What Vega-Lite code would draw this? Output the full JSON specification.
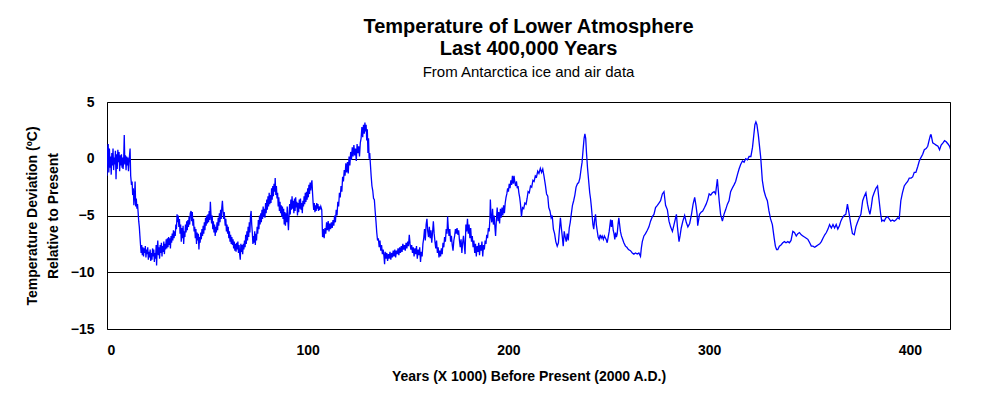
{
"$schema": "https://vega.github.io/schema/vega-lite/v6.json",
"width": 843, "height": 227,
"autosize": {"type": "none"},
"padding": {"left": 107, "top": 102, "right": 35, "bottom": 66},
"background": "white",
"title": {"text": ["Temperature of Lower Atmosphere", "Last 400,000 Years"], "subtitle": "From Antarctica ice and air data", "font": "Liberation Sans", "fontSize": 20, "fontWeight": "bold", "lineHeight": 22, "color": "black", "subtitleFont": "Liberation Sans", "subtitleFontSize": 15, "subtitleColor": "black", "subtitlePadding": 6, "anchor": "middle", "offset": 15},
"data": {"values": [
{"kyr":0,"temp":-1.5},{"kyr":0.3,"temp":0.8},{"kyr":0.6,"temp":1.3},{"kyr":0.9,"temp":-1.2},{"kyr":1.2,"temp":0.9},{"kyr":1.5,"temp":-0.8},{"kyr":1.8,"temp":0.2},{"kyr":2.1,"temp":-1.4},{"kyr":2.4,"temp":0.5},{"kyr":2.7,"temp":-0.6},{"kyr":3.0,"temp":0.9},{"kyr":3.3,"temp":-1.0},{"kyr":3.6,"temp":0.1},{"kyr":3.9,"temp":-0.5},{"kyr":4.2,"temp":0.7},{"kyr":4.5,"temp":-1.8},{"kyr":4.8,"temp":0.4},{"kyr":5.1,"temp":-0.9},{"kyr":5.4,"temp":0.8},{"kyr":5.7,"temp":-0.3},{"kyr":6.0,"temp":0.6},{"kyr":6.3,"temp":-1.1},{"kyr":6.6,"temp":0.3},{"kyr":6.9,"temp":-0.6},{"kyr":7.2,"temp":0.4},{"kyr":7.5,"temp":-0.8},{"kyr":7.8,"temp":0.1},{"kyr":8.0,"temp":-0.9},{"kyr":8.3,"temp":-0.2},{"kyr":8.6,"temp":2.1},{"kyr":8.9,"temp":-0.5},{"kyr":9.2,"temp":0.3},{"kyr":9.5,"temp":-1.0},{"kyr":9.8,"temp":0.2},{"kyr":10.1,"temp":-0.6},{"kyr":10.4,"temp":0.1},{"kyr":10.7,"temp":-1.1},{"kyr":11.0,"temp":-0.2},{"kyr":11.5,"temp":0.9},{"kyr":11.8,"temp":-1.5},
{"kyr":12.2,"temp":-2.3},{"kyr":12.5,"temp":-2.0},{"kyr":12.8,"temp":-3.2},{"kyr":13.1,"temp":-2.6},{"kyr":13.4,"temp":-4.1},{"kyr":13.7,"temp":-3.3},{"kyr":14.0,"temp":-2.0},{"kyr":14.3,"temp":-4.2},{"kyr":14.6,"temp":-3.5},{"kyr":14.9,"temp":-4.4},{"kyr":15.2,"temp":-4.0},{"kyr":15.5,"temp":-4.7},{"kyr":15.8,"temp":-5.5},{"kyr":16.1,"temp":-6.0},{"kyr":16.4,"temp":-6.8},{"kyr":16.7,"temp":-7.6},{"kyr":17.0,"temp":-8.3},{"kyr":17.3,"temp":-7.6},{"kyr":17.6,"temp":-8.5},{"kyr":17.9,"temp":-7.8},{"kyr":18.2,"temp":-8.6},{"kyr":18.5,"temp":-7.9},{"kyr":18.8,"temp":-8.3},{"kyr":19.1,"temp":-7.7},{"kyr":19.4,"temp":-8.7},{"kyr":19.7,"temp":-8.0},{"kyr":20.0,"temp":-8.4},{"kyr":20.3,"temp":-7.8},{"kyr":20.6,"temp":-8.9},{"kyr":20.9,"temp":-8.2},{"kyr":21.2,"temp":-8.7},{"kyr":21.5,"temp":-8.0},{"kyr":21.8,"temp":-9.0},{"kyr":22.1,"temp":-8.3},{"kyr":22.4,"temp":-8.9},{"kyr":22.7,"temp":-7.9},{"kyr":23.0,"temp":-8.6},{"kyr":23.3,"temp":-8.0},{"kyr":23.6,"temp":-9.1},{"kyr":23.9,"temp":-8.3},{"kyr":24.2,"temp":-8.8},{"kyr":24.5,"temp":-7.6},{"kyr":24.7,"temp":-9.4},{"kyr":25.0,"temp":-8.0},{"kyr":25.3,"temp":-7.2},{"kyr":25.6,"temp":-8.5},{"kyr":25.9,"temp":-7.8},{"kyr":26.2,"temp":-8.8},{"kyr":26.5,"temp":-7.6},{"kyr":26.8,"temp":-8.3},{"kyr":27.1,"temp":-7.4},{"kyr":27.4,"temp":-8.6},{"kyr":27.7,"temp":-7.7},{"kyr":28.0,"temp":-8.2},{"kyr":28.3,"temp":-7.3},{"kyr":28.6,"temp":-8.4},{"kyr":28.9,"temp":-7.5},{"kyr":29.2,"temp":-8.0},{"kyr":29.5,"temp":-7.1},{"kyr":29.8,"temp":-7.9},{"kyr":30.1,"temp":-7.0},{"kyr":30.4,"temp":-7.8},{"kyr":30.7,"temp":-6.9},{"kyr":31.0,"temp":-7.6},{"kyr":31.3,"temp":-7.0},{"kyr":31.6,"temp":-7.9},{"kyr":31.9,"temp":-6.8},{"kyr":32.2,"temp":-7.4},{"kyr":32.5,"temp":-6.6},{"kyr":32.8,"temp":-7.2},{"kyr":33.1,"temp":-6.3},{"kyr":33.4,"temp":-7.0},{"kyr":33.7,"temp":-6.4},{"kyr":34.0,"temp":-6.8},{"kyr":34.3,"temp":-5.8},{"kyr":34.6,"temp":-6.2},{"kyr":34.9,"temp":-4.9},{"kyr":35.2,"temp":-5.6},{"kyr":35.5,"temp":-5.0},{"kyr":35.8,"temp":-6.0},{"kyr":36.1,"temp":-5.3},{"kyr":36.4,"temp":-6.6},{"kyr":36.7,"temp":-5.8},{"kyr":37.0,"temp":-7.3},{"kyr":37.3,"temp":-6.1},{"kyr":37.6,"temp":-7.0},{"kyr":37.9,"temp":-5.9},{"kyr":38.2,"temp":-7.5},{"kyr":38.5,"temp":-6.4},{"kyr":38.8,"temp":-6.9},{"kyr":39.1,"temp":-5.8},{"kyr":39.4,"temp":-6.5},{"kyr":39.7,"temp":-5.5},{"kyr":40.0,"temp":-6.3},{"kyr":40.3,"temp":-5.4},{"kyr":40.6,"temp":-6.0},{"kyr":40.9,"temp":-5.1},{"kyr":41.2,"temp":-5.8},{"kyr":41.5,"temp":-4.8},{"kyr":41.9,"temp":-4.6},{"kyr":42.2,"temp":-5.5},{"kyr":42.5,"temp":-4.7},{"kyr":42.8,"temp":-5.9},{"kyr":43.1,"temp":-5.3},{"kyr":43.4,"temp":-6.4},{"kyr":43.7,"temp":-6.0},{"kyr":44.0,"temp":-7.0},{"kyr":44.3,"temp":-6.2},{"kyr":44.6,"temp":-7.5},{"kyr":44.9,"temp":-6.5},{"kyr":45.2,"temp":-7.2},{"kyr":45.5,"temp":-6.6},{"kyr":45.8,"temp":-8.0},{"kyr":46.1,"temp":-6.9},{"kyr":46.4,"temp":-7.4},{"kyr":46.7,"temp":-6.5},{"kyr":47.0,"temp":-7.1},{"kyr":47.3,"temp":-6.2},{"kyr":47.6,"temp":-6.8},{"kyr":47.9,"temp":-5.9},{"kyr":48.2,"temp":-6.6},{"kyr":48.5,"temp":-5.6},{"kyr":48.8,"temp":-6.3},{"kyr":49.1,"temp":-5.2},{"kyr":49.4,"temp":-5.9},{"kyr":49.7,"temp":-5.0},{"kyr":50.0,"temp":-5.7},{"kyr":50.3,"temp":-4.9},{"kyr":50.6,"temp":-5.6},{"kyr":50.9,"temp":-4.6},{"kyr":51.2,"temp":-5.4},{"kyr":51.5,"temp":-3.8},{"kyr":51.8,"temp":-4.9},{"kyr":52.1,"temp":-5.7},{"kyr":52.4,"temp":-5.0},{"kyr":52.7,"temp":-6.2},{"kyr":53.0,"temp":-5.5},{"kyr":53.3,"temp":-6.5},{"kyr":53.6,"temp":-5.8},{"kyr":53.9,"temp":-6.8},{"kyr":54.2,"temp":-6.0},{"kyr":54.5,"temp":-6.5},{"kyr":54.8,"temp":-5.6},{"kyr":55.1,"temp":-6.3},{"kyr":55.4,"temp":-5.2},{"kyr":55.7,"temp":-5.9},{"kyr":56.0,"temp":-4.8},{"kyr":56.3,"temp":-5.6},{"kyr":56.6,"temp":-4.5},{"kyr":56.9,"temp":-5.3},{"kyr":57.2,"temp":-4.3},{"kyr":57.5,"temp":-3.7},{"kyr":57.8,"temp":-4.6},{"kyr":58.1,"temp":-5.3},{"kyr":58.4,"temp":-4.7},{"kyr":58.9,"temp":-5.9},{"kyr":59.2,"temp":-5.3},{"kyr":59.5,"temp":-6.4},{"kyr":59.8,"temp":-5.8},{"kyr":60.1,"temp":-6.6},{"kyr":60.4,"temp":-6.0},{"kyr":60.7,"temp":-7.0},{"kyr":61.0,"temp":-6.4},{"kyr":61.3,"temp":-7.3},{"kyr":61.6,"temp":-6.7},{"kyr":61.9,"temp":-7.5},{"kyr":62.2,"temp":-6.9},{"kyr":62.5,"temp":-7.6},{"kyr":62.8,"temp":-7.1},{"kyr":63.1,"temp":-7.9},{"kyr":63.4,"temp":-7.3},{"kyr":63.7,"temp":-8.1},{"kyr":64.0,"temp":-7.5},{"kyr":64.3,"temp":-8.2},{"kyr":64.6,"temp":-7.4},{"kyr":64.9,"temp":-8.0},{"kyr":65.2,"temp":-7.3},{"kyr":65.5,"temp":-8.3},{"kyr":65.8,"temp":-7.6},{"kyr":66.1,"temp":-8.4},{"kyr":66.4,"temp":-8.9},{"kyr":66.7,"temp":-7.5},{"kyr":67.0,"temp":-8.2},{"kyr":67.3,"temp":-7.6},{"kyr":67.6,"temp":-8.4},{"kyr":67.9,"temp":-7.5},{"kyr":68.2,"temp":-8.0},{"kyr":68.5,"temp":-7.2},{"kyr":68.8,"temp":-7.8},{"kyr":69.1,"temp":-6.7},{"kyr":69.4,"temp":-7.5},{"kyr":69.7,"temp":-6.4},{"kyr":70.0,"temp":-7.2},{"kyr":70.3,"temp":-6.0},{"kyr":70.6,"temp":-6.9},{"kyr":70.9,"temp":-5.6},{"kyr":71.2,"temp":-6.5},{"kyr":71.5,"temp":-5.0},{"kyr":71.8,"temp":-4.6},{"kyr":72.1,"temp":-5.8},{"kyr":72.4,"temp":-6.5},{"kyr":72.7,"temp":-7.5},{"kyr":73.0,"temp":-6.8},{"kyr":73.3,"temp":-7.4},{"kyr":73.6,"temp":-6.4},{"kyr":73.9,"temp":-7.6},{"kyr":74.2,"temp":-6.6},{"kyr":74.5,"temp":-7.2},{"kyr":74.8,"temp":-6.0},{"kyr":75.1,"temp":-6.6},{"kyr":75.4,"temp":-5.4},{"kyr":75.7,"temp":-6.2},{"kyr":76.0,"temp":-5.0},{"kyr":76.3,"temp":-5.8},{"kyr":76.6,"temp":-4.8},{"kyr":76.9,"temp":-5.6},{"kyr":77.2,"temp":-4.5},{"kyr":77.5,"temp":-5.3},{"kyr":77.8,"temp":-4.2},{"kyr":78.1,"temp":-5.1},{"kyr":78.4,"temp":-4.4},{"kyr":78.7,"temp":-5.2},{"kyr":79.0,"temp":-3.9},{"kyr":79.3,"temp":-4.8},{"kyr":79.6,"temp":-3.6},{"kyr":79.9,"temp":-4.5},{"kyr":80.2,"temp":-3.3},{"kyr":80.5,"temp":-4.2},{"kyr":80.8,"temp":-3.0},{"kyr":81.1,"temp":-4.0},{"kyr":81.4,"temp":-3.2},{"kyr":81.7,"temp":-3.9},{"kyr":82.0,"temp":-2.6},{"kyr":82.3,"temp":-3.6},{"kyr":82.6,"temp":-2.4},{"kyr":82.9,"temp":-3.3},{"kyr":83.2,"temp":-2.2},{"kyr":83.5,"temp":-2.9},{"kyr":83.8,"temp":-1.7},{"kyr":84.1,"temp":-3.2},{"kyr":84.4,"temp":-2.4},{"kyr":84.7,"temp":-3.5},{"kyr":85.0,"temp":-3.0},{"kyr":85.3,"temp":-4.2},{"kyr":85.6,"temp":-3.4},{"kyr":85.9,"temp":-4.6},{"kyr":86.2,"temp":-3.8},{"kyr":86.5,"temp":-4.8},{"kyr":86.8,"temp":-4.1},{"kyr":87.1,"temp":-5.1},{"kyr":87.4,"temp":-4.2},{"kyr":87.7,"temp":-5.3},{"kyr":88.0,"temp":-4.4},{"kyr":88.3,"temp":-5.8},{"kyr":88.6,"temp":-4.7},{"kyr":88.9,"temp":-5.9},{"kyr":89.2,"temp":-4.8},{"kyr":89.5,"temp":-5.6},{"kyr":89.8,"temp":-4.2},{"kyr":90.1,"temp":-5.4},{"kyr":90.4,"temp":-6.3},{"kyr":90.7,"temp":-5.0},{"kyr":91.0,"temp":-4.0},{"kyr":91.3,"temp":-4.9},{"kyr":91.6,"temp":-3.6},{"kyr":91.9,"temp":-4.5},{"kyr":92.2,"temp":-3.3},{"kyr":92.5,"temp":-4.4},{"kyr":92.8,"temp":-3.7},{"kyr":93.1,"temp":-4.8},{"kyr":93.4,"temp":-3.5},{"kyr":93.7,"temp":-4.6},{"kyr":94.0,"temp":-3.4},{"kyr":94.3,"temp":-4.3},{"kyr":94.6,"temp":-3.8},{"kyr":94.9,"temp":-5.0},{"kyr":95.2,"temp":-3.9},{"kyr":95.5,"temp":-4.7},{"kyr":95.8,"temp":-3.6},{"kyr":96.1,"temp":-4.4},{"kyr":96.4,"temp":-3.5},{"kyr":96.7,"temp":-4.5},{"kyr":97.0,"temp":-3.9},{"kyr":97.3,"temp":-4.8},{"kyr":97.6,"temp":-3.7},{"kyr":97.9,"temp":-4.2},{"kyr":98.2,"temp":-3.3},{"kyr":98.5,"temp":-4.0},{"kyr":98.8,"temp":-3.0},{"kyr":99.1,"temp":-3.8},{"kyr":99.4,"temp":-2.9},{"kyr":99.7,"temp":-3.6},{"kyr":100.0,"temp":-2.6},{"kyr":100.3,"temp":-3.4},{"kyr":100.6,"temp":-2.3},{"kyr":100.9,"temp":-3.1},{"kyr":101.2,"temp":-2.1},{"kyr":101.5,"temp":-2.8},{"kyr":101.8,"temp":-2.2},{"kyr":102.1,"temp":-1.9},{"kyr":102.4,"temp":-3.0},{"kyr":102.7,"temp":-3.9},{"kyr":103.0,"temp":-4.5},{"kyr":103.3,"temp":-3.9},{"kyr":103.6,"temp":-4.7},{"kyr":103.9,"temp":-4.1},{"kyr":104.2,"temp":-4.6},{"kyr":104.5,"temp":-3.9},{"kyr":104.8,"temp":-4.4},{"kyr":105.1,"temp":-4.0},{"kyr":105.4,"temp":-4.6},{"kyr":105.7,"temp":-4.2},{"kyr":106.0,"temp":-4.5},{"kyr":106.5,"temp":-4.2},{"kyr":107.0,"temp":-4.5},
{"kyr":107.4,"temp":-6.9},{"kyr":107.8,"temp":-6.2},{"kyr":108.2,"temp":-7.0},{"kyr":108.6,"temp":-6.1},{"kyr":109.0,"temp":-6.6},{"kyr":109.4,"temp":-5.6},{"kyr":109.8,"temp":-6.3},{"kyr":110.2,"temp":-5.5},{"kyr":110.6,"temp":-6.4},{"kyr":111.0,"temp":-5.7},{"kyr":111.4,"temp":-6.2},{"kyr":111.8,"temp":-5.6},{"kyr":112.2,"temp":-6.1},{"kyr":112.6,"temp":-5.4},{"kyr":113.0,"temp":-5.9},{"kyr":113.4,"temp":-5.0},{"kyr":113.8,"temp":-5.6},{"kyr":114.2,"temp":-4.5},{"kyr":114.6,"temp":-5.0},{"kyr":115.0,"temp":-3.8},{"kyr":115.4,"temp":-4.2},{"kyr":115.8,"temp":-3.0},{"kyr":116.2,"temp":-3.4},{"kyr":116.6,"temp":-2.4},{"kyr":117.0,"temp":-2.9},{"kyr":117.4,"temp":-1.6},{"kyr":117.8,"temp":-2.0},{"kyr":118.2,"temp":-1.0},{"kyr":118.6,"temp":-1.5},{"kyr":119.0,"temp":-0.4},{"kyr":119.4,"temp":-1.2},{"kyr":119.8,"temp":-0.3},{"kyr":120.2,"temp":-1.3},{"kyr":120.6,"temp":0.2},{"kyr":121.0,"temp":-0.6},{"kyr":121.4,"temp":0.6},{"kyr":121.8,"temp":-0.1},{"kyr":122.2,"temp":1.0},{"kyr":122.6,"temp":0.2},{"kyr":123.0,"temp":1.2},{"kyr":123.4,"temp":0.3},{"kyr":123.8,"temp":0.9},{"kyr":124.2,"temp":-0.2},{"kyr":124.6,"temp":1.3},{"kyr":125.0,"temp":0.5},{"kyr":125.4,"temp":1.1},{"kyr":125.8,"temp":0.2},{"kyr":126.2,"temp":1.4},{"kyr":126.6,"temp":1.8},{"kyr":127.0,"temp":2.8},{"kyr":127.4,"temp":1.9},{"kyr":127.8,"temp":3.0},{"kyr":128.2,"temp":2.2},{"kyr":128.5,"temp":3.2},{"kyr":128.8,"temp":2.4},{"kyr":129.1,"temp":3.0},{"kyr":129.4,"temp":1.6},{"kyr":129.7,"temp":2.6},{"kyr":130.0,"temp":0.5},{"kyr":130.3,"temp":1.8},{"kyr":130.6,"temp":0.0},{"kyr":130.9,"temp":0.5},{"kyr":131.2,"temp":-0.4},{"kyr":131.6,"temp":-1.5},{"kyr":132.0,"temp":-2.4},{"kyr":132.4,"temp":-2.8},{"kyr":132.8,"temp":-3.5},{"kyr":133.2,"temp":-3.6},{"kyr":133.6,"temp":-4.6},{"kyr":134.0,"temp":-5.5},{"kyr":134.4,"temp":-6.5},{"kyr":134.8,"temp":-7.2},{"kyr":135.2,"temp":-7.0},{"kyr":135.6,"temp":-7.8},{"kyr":136.0,"temp":-7.2},{"kyr":136.4,"temp":-8.1},{"kyr":136.8,"temp":-7.6},{"kyr":137.2,"temp":-8.4},{"kyr":137.6,"temp":-8.0},{"kyr":138.0,"temp":-8.6},{"kyr":138.3,"temp":-9.3},{"kyr":138.6,"temp":-8.2},{"kyr":139.0,"temp":-8.8},{"kyr":139.4,"temp":-8.3},{"kyr":139.8,"temp":-9.0},{"kyr":140.2,"temp":-8.4},{"kyr":140.6,"temp":-8.8},{"kyr":141.0,"temp":-8.2},{"kyr":141.4,"temp":-8.9},{"kyr":141.8,"temp":-8.3},{"kyr":142.2,"temp":-8.7},{"kyr":142.6,"temp":-8.1},{"kyr":143.0,"temp":-8.6},{"kyr":143.4,"temp":-8.0},{"kyr":143.8,"temp":-8.7},{"kyr":144.2,"temp":-8.1},{"kyr":144.6,"temp":-8.4},{"kyr":145.0,"temp":-7.9},{"kyr":145.4,"temp":-8.5},{"kyr":145.8,"temp":-7.8},{"kyr":146.2,"temp":-8.3},{"kyr":146.6,"temp":-7.7},{"kyr":147.0,"temp":-8.2},{"kyr":147.4,"temp":-7.5},{"kyr":147.8,"temp":-8.0},{"kyr":148.2,"temp":-7.6},{"kyr":148.6,"temp":-8.1},{"kyr":149.0,"temp":-7.4},{"kyr":149.4,"temp":-7.9},{"kyr":149.8,"temp":-7.3},{"kyr":150.2,"temp":-7.7},{"kyr":150.6,"temp":-6.7},{"kyr":151.0,"temp":-7.5},{"kyr":151.4,"temp":-8.0},{"kyr":151.8,"temp":-7.6},{"kyr":152.2,"temp":-8.3},{"kyr":152.6,"temp":-7.8},{"kyr":153.0,"temp":-8.6},{"kyr":153.4,"temp":-7.9},{"kyr":153.8,"temp":-8.4},{"kyr":154.2,"temp":-7.7},{"kyr":154.6,"temp":-8.8},{"kyr":155.0,"temp":-8.0},{"kyr":155.4,"temp":-8.5},{"kyr":155.8,"temp":-7.8},{"kyr":156.2,"temp":-9.1},{"kyr":156.6,"temp":-8.2},{"kyr":157.0,"temp":-8.6},{"kyr":157.4,"temp":-7.5},{"kyr":157.8,"temp":-7.0},{"kyr":158.2,"temp":-6.2},{"kyr":158.6,"temp":-7.2},{"kyr":159.0,"temp":-5.8},{"kyr":159.4,"temp":-5.3},{"kyr":159.8,"temp":-6.4},{"kyr":160.2,"temp":-6.9},{"kyr":160.6,"temp":-6.0},{"kyr":161.0,"temp":-7.0},{"kyr":161.4,"temp":-6.3},{"kyr":161.8,"temp":-7.4},{"kyr":162.2,"temp":-6.5},{"kyr":162.6,"temp":-5.5},{"kyr":163.0,"temp":-6.6},{"kyr":163.4,"temp":-7.3},{"kyr":163.8,"temp":-7.9},{"kyr":164.2,"temp":-7.2},{"kyr":164.6,"temp":-8.3},{"kyr":165.0,"temp":-7.8},{"kyr":165.4,"temp":-8.7},{"kyr":165.8,"temp":-8.1},{"kyr":166.2,"temp":-8.6},{"kyr":166.6,"temp":-7.9},{"kyr":167.0,"temp":-8.4},{"kyr":167.4,"temp":-7.4},{"kyr":167.8,"temp":-7.8},{"kyr":168.2,"temp":-6.9},{"kyr":168.6,"temp":-7.3},{"kyr":169.0,"temp":-6.2},{"kyr":169.4,"temp":-6.6},{"kyr":169.7,"temp":-5.1},{"kyr":170.0,"temp":-6.0},{"kyr":170.4,"temp":-6.8},{"kyr":170.8,"temp":-6.2},{"kyr":171.2,"temp":-7.3},{"kyr":171.6,"temp":-6.8},{"kyr":172.0,"temp":-7.6},{"kyr":172.4,"temp":-8.1},{"kyr":172.8,"temp":-7.2},{"kyr":173.2,"temp":-6.8},{"kyr":173.6,"temp":-6.2},{"kyr":174.0,"temp":-6.6},{"kyr":174.4,"temp":-6.1},{"kyr":174.8,"temp":-6.7},{"kyr":175.2,"temp":-6.3},{"kyr":175.6,"temp":-7.2},{"kyr":176.0,"temp":-7.8},{"kyr":176.4,"temp":-7.1},{"kyr":176.8,"temp":-8.3},{"kyr":177.2,"temp":-7.4},{"kyr":177.6,"temp":-6.8},{"kyr":178.0,"temp":-7.6},{"kyr":178.4,"temp":-8.4},{"kyr":178.8,"temp":-5.8},{"kyr":179.2,"temp":-6.4},{"kyr":179.6,"temp":-5.3},{"kyr":180.0,"temp":-6.6},{"kyr":180.4,"temp":-5.8},{"kyr":180.8,"temp":-7.0},{"kyr":181.2,"temp":-6.1},{"kyr":181.6,"temp":-7.3},{"kyr":182.0,"temp":-6.8},{"kyr":182.4,"temp":-7.8},{"kyr":182.8,"temp":-7.2},{"kyr":183.2,"temp":-8.3},{"kyr":183.6,"temp":-7.5},{"kyr":184.0,"temp":-8.6},{"kyr":184.4,"temp":-7.7},{"kyr":184.8,"temp":-8.2},{"kyr":185.2,"temp":-7.4},{"kyr":185.6,"temp":-8.5},{"kyr":186.0,"temp":-7.6},{"kyr":186.4,"temp":-8.1},{"kyr":186.8,"temp":-7.3},{"kyr":187.2,"temp":-8.6},{"kyr":187.6,"temp":-7.6},{"kyr":188.0,"temp":-8.0},{"kyr":188.4,"temp":-7.2},{"kyr":188.8,"temp":-7.5},{"kyr":189.2,"temp":-6.7},{"kyr":189.6,"temp":-7.0},{"kyr":190.0,"temp":-6.1},{"kyr":190.4,"temp":-6.4},{"kyr":190.8,"temp":-5.2},{"kyr":191.0,"temp":-3.6},{"kyr":191.3,"temp":-4.9},{"kyr":191.7,"temp":-5.6},{"kyr":192.1,"temp":-4.4},{"kyr":192.5,"temp":-5.8},{"kyr":192.9,"temp":-5.0},{"kyr":193.3,"temp":-6.1},{"kyr":193.6,"temp":-6.8},{"kyr":194.0,"temp":-5.4},{"kyr":194.4,"temp":-4.3},{"kyr":194.8,"temp":-5.5},{"kyr":195.2,"temp":-4.7},{"kyr":195.6,"temp":-5.7},{"kyr":196.0,"temp":-4.4},{"kyr":196.4,"temp":-5.2},{"kyr":196.8,"temp":-4.3},{"kyr":197.2,"temp":-5.0},{"kyr":197.6,"temp":-4.1},{"kyr":198.0,"temp":-4.8},{"kyr":198.4,"temp":-3.9},{"kyr":198.8,"temp":-3.4},{"kyr":199.2,"temp":-3.1},{"kyr":199.6,"temp":-2.6},{"kyr":200.0,"temp":-2.9},{"kyr":200.4,"temp":-2.2},{"kyr":200.8,"temp":-2.6},{"kyr":201.2,"temp":-1.9},{"kyr":201.6,"temp":-2.3},{"kyr":202.0,"temp":-1.5},{"kyr":202.4,"temp":-2.2},{"kyr":202.8,"temp":-1.5},{"kyr":203.2,"temp":-2.1},{"kyr":203.6,"temp":-2.4},{"kyr":204.0,"temp":-2.0},{"kyr":204.4,"temp":-2.6},{"kyr":204.8,"temp":-2.4},{"kyr":205.2,"temp":-3.0},{"kyr":205.6,"temp":-3.4},{"kyr":206.0,"temp":-4.0},{"kyr":206.5,"temp":-5.1},{"kyr":207.0,"temp":-4.3},{"kyr":207.6,"temp":-4.4},{"kyr":208.2,"temp":-3.9},{"kyr":208.8,"temp":-4.0},{"kyr":209.3,"temp":-3.5},{"kyr":209.8,"temp":-2.9},{"kyr":210.4,"temp":-3.0},{"kyr":211.0,"temp":-2.4},{"kyr":211.6,"temp":-2.5},{"kyr":212.2,"temp":-1.9},{"kyr":212.8,"temp":-2.0},{"kyr":213.4,"temp":-1.5},{"kyr":214.0,"temp":-1.6},{"kyr":214.6,"temp":-1.1},{"kyr":215.2,"temp":-1.3},{"kyr":215.9,"temp":-0.85},{"kyr":216.5,"temp":-1.2},{"kyr":217.1,"temp":-0.9},{"kyr":217.7,"temp":-1.5},{"kyr":218.4,"temp":-2.3},{"kyr":219.0,"temp":-3.1},{"kyr":219.6,"temp":-3.3},{"kyr":220.1,"temp":-4.3},{"kyr":220.7,"temp":-4.6},{"kyr":221.3,"temp":-5.2},{"kyr":221.8,"temp":-5.0},{"kyr":222.4,"temp":-6.2},{"kyr":223.0,"temp":-6.6},{"kyr":223.6,"temp":-7.3},{"kyr":224.3,"temp":-7.7},{"kyr":224.9,"temp":-7.4},{"kyr":225.4,"temp":-6.3},{"kyr":225.9,"temp":-5.2},{"kyr":226.3,"temp":-6.0},{"kyr":226.8,"temp":-6.8},{"kyr":227.3,"temp":-7.7},{"kyr":227.8,"temp":-6.4},{"kyr":228.3,"temp":-6.9},{"kyr":228.8,"temp":-7.3},{"kyr":229.3,"temp":-6.6},{"kyr":229.8,"temp":-7.2},{"kyr":230.3,"temp":-6.1},{"kyr":230.8,"temp":-5.6},{"kyr":231.3,"temp":-4.9},{"kyr":231.9,"temp":-4.1},{"kyr":232.5,"temp":-3.7},{"kyr":233.1,"temp":-3.2},{"kyr":233.7,"temp":-2.5},{"kyr":234.4,"temp":-2.2},{"kyr":235.0,"temp":-2.1},{"kyr":235.6,"temp":-1.7},{"kyr":236.2,"temp":-0.9},{"kyr":236.7,"temp":-0.3},{"kyr":237.2,"temp":0.8},{"kyr":237.7,"temp":1.8},{"kyr":238.1,"temp":2.2},{"kyr":238.5,"temp":1.8},{"kyr":238.9,"temp":0.5},{"kyr":239.4,"temp":-0.8},{"kyr":240.0,"temp":-2.0},{"kyr":240.5,"temp":-3.0},{"kyr":240.9,"temp":-3.5},{"kyr":241.3,"temp":-4.2},{"kyr":241.7,"temp":-5.0},{"kyr":242.1,"temp":-5.8},{"kyr":242.5,"temp":-6.2},{"kyr":243.0,"temp":-5.3},{"kyr":243.4,"temp":-4.9},{"kyr":243.8,"temp":-5.8},{"kyr":244.2,"temp":-6.3},{"kyr":244.7,"temp":-6.9},{"kyr":245.2,"temp":-7.1},{"kyr":245.7,"temp":-6.7},{"kyr":246.2,"temp":-7.0},{"kyr":246.7,"temp":-6.8},{"kyr":247.3,"temp":-7.1},{"kyr":247.8,"temp":-6.8},{"kyr":248.4,"temp":-7.0},{"kyr":248.9,"temp":-7.2},{"kyr":249.2,"temp":-7.4},{"kyr":249.7,"temp":-6.9},{"kyr":250.2,"temp":-6.4},{"kyr":250.9,"temp":-5.35},{"kyr":251.3,"temp":-6.0},{"kyr":251.7,"temp":-5.4},{"kyr":252.2,"temp":-6.3},{"kyr":252.6,"temp":-6.6},{"kyr":253.0,"temp":-7.1},{"kyr":253.4,"temp":-6.5},{"kyr":253.8,"temp":-6.9},{"kyr":254.2,"temp":-6.6},{"kyr":254.6,"temp":-5.8},{"kyr":255.0,"temp":-5.2},{"kyr":255.4,"temp":-5.8},{"kyr":255.8,"temp":-6.4},{"kyr":256.3,"temp":-6.8},{"kyr":256.9,"temp":-7.1},{"kyr":257.5,"temp":-7.4},{"kyr":258.3,"temp":-7.7},{"kyr":259.0,"temp":-7.8},{"kyr":259.8,"temp":-8.0},{"kyr":260.8,"temp":-8.1},{"kyr":261.7,"temp":-8.3},{"kyr":262.5,"temp":-8.4},{"kyr":263.3,"temp":-8.3},{"kyr":264.2,"temp":-8.4},{"kyr":265.0,"temp":-8.3},{"kyr":265.8,"temp":-8.6},{"kyr":266.2,"temp":-7.9},{"kyr":266.7,"temp":-7.3},{"kyr":267.5,"temp":-6.8},{"kyr":268.3,"temp":-6.6},{"kyr":269.2,"temp":-6.3},{"kyr":270.0,"temp":-6.0},{"kyr":270.8,"temp":-5.5},{"kyr":271.7,"temp":-5.1},{"kyr":272.5,"temp":-4.9},{"kyr":273.3,"temp":-4.3},{"kyr":274.2,"temp":-4.1},{"kyr":275.0,"temp":-3.9},{"kyr":275.8,"temp":-3.7},{"kyr":276.7,"temp":-3.1},{"kyr":277.5,"temp":-2.9},{"kyr":278.3,"temp":-4.1},{"kyr":279.2,"temp":-4.5},{"kyr":280.0,"temp":-5.5},{"kyr":280.8,"temp":-6.0},{"kyr":281.7,"temp":-6.4},{"kyr":282.5,"temp":-5.8},{"kyr":283.3,"temp":-5.2},{"kyr":283.7,"temp":-4.9},{"kyr":284.2,"temp":-6.0},{"kyr":285.0,"temp":-7.3},{"kyr":285.5,"temp":-6.8},{"kyr":286.1,"temp":-6.1},{"kyr":286.9,"temp":-5.5},{"kyr":287.8,"temp":-5.0},{"kyr":288.6,"temp":-5.6},{"kyr":289.4,"temp":-6.0},{"kyr":290.3,"temp":-5.7},{"kyr":291.2,"temp":-4.9},{"kyr":292.0,"temp":-4.0},{"kyr":292.8,"temp":-3.4},{"kyr":293.5,"temp":-4.2},{"kyr":294.0,"temp":-4.9},{"kyr":294.3,"temp":-5.9},{"kyr":295.2,"temp":-4.9},{"kyr":296.0,"temp":-4.7},{"kyr":296.8,"temp":-4.6},{"kyr":297.7,"temp":-4.3},{"kyr":298.5,"temp":-4.0},{"kyr":299.3,"temp":-3.6},{"kyr":300.0,"temp":-3.1},{"kyr":300.8,"temp":-3.2},{"kyr":301.6,"temp":-3.0},{"kyr":302.5,"temp":-2.9},{"kyr":303.2,"temp":-3.1},{"kyr":304.1,"temp":-1.8},{"kyr":305.0,"temp":-3.7},{"kyr":305.7,"temp":-4.9},{"kyr":306.6,"temp":-5.5},{"kyr":307.4,"temp":-4.9},{"kyr":308.2,"temp":-4.5},{"kyr":309.1,"temp":-4.0},{"kyr":309.9,"temp":-3.7},{"kyr":310.7,"temp":-2.9},{"kyr":311.5,"temp":-2.6},{"kyr":312.4,"temp":-2.3},{"kyr":313.2,"temp":-2.0},{"kyr":314.1,"temp":-1.4},{"kyr":314.9,"temp":-0.9},{"kyr":315.7,"temp":-0.5},{"kyr":316.6,"temp":-0.2},{"kyr":317.4,"temp":-0.3},{"kyr":318.2,"temp":0.0},{"kyr":319.1,"temp":-0.1},{"kyr":319.9,"temp":0.2},{"kyr":320.8,"temp":0.2},{"kyr":321.6,"temp":1.0},{"kyr":322.2,"temp":2.0},{"kyr":322.8,"temp":3.0},{"kyr":323.3,"temp":3.25},{"kyr":323.8,"temp":3.0},{"kyr":324.5,"temp":2.1},{"kyr":325.7,"temp":0.1},{"kyr":326.5,"temp":-1.9},{"kyr":327.3,"temp":-2.8},{"kyr":328.1,"temp":-3.3},{"kyr":329.0,"temp":-3.7},{"kyr":329.8,"temp":-4.6},{"kyr":330.6,"temp":-5.3},{"kyr":331.5,"temp":-5.8},{"kyr":332.4,"temp":-7.0},{"kyr":333.0,"temp":-7.7},{"kyr":333.6,"temp":-8.0},{"kyr":334.2,"temp":-8.0},{"kyr":335.0,"temp":-7.7},{"kyr":335.8,"temp":-7.6},{"kyr":336.7,"temp":-7.4},{"kyr":337.5,"temp":-7.3},{"kyr":338.3,"temp":-7.4},{"kyr":339.2,"temp":-7.3},{"kyr":340.0,"temp":-7.4},{"kyr":340.8,"temp":-7.2},{"kyr":341.7,"temp":-6.4},{"kyr":342.5,"temp":-6.5},{"kyr":343.4,"temp":-6.8},{"kyr":344.2,"temp":-6.6},{"kyr":345.0,"temp":-6.5},{"kyr":345.9,"temp":-6.7},{"kyr":346.7,"temp":-6.8},{"kyr":347.5,"temp":-6.9},{"kyr":348.4,"temp":-7.0},{"kyr":349.2,"temp":-7.1},{"kyr":350.1,"temp":-7.4},{"kyr":350.9,"temp":-7.7},{"kyr":351.7,"temp":-7.7},{"kyr":352.6,"temp":-7.8},{"kyr":353.4,"temp":-7.7},{"kyr":354.2,"temp":-7.6},{"kyr":355.1,"temp":-7.5},{"kyr":355.9,"temp":-7.3},{"kyr":356.7,"temp":-7.0},{"kyr":357.6,"temp":-6.7},{"kyr":358.4,"temp":-6.5},{"kyr":359.2,"temp":-6.2},{"kyr":360.0,"temp":-5.8},{"kyr":360.9,"temp":-6.1},{"kyr":361.7,"temp":-5.8},{"kyr":362.5,"temp":-6.1},{"kyr":363.3,"temp":-5.8},{"kyr":364.1,"temp":-6.2},{"kyr":364.9,"temp":-5.9},{"kyr":365.6,"temp":-5.5},{"kyr":366.4,"temp":-5.2},{"kyr":367.2,"temp":-5.0},{"kyr":368.1,"temp":-4.9},{"kyr":368.9,"temp":-4.0},{"kyr":369.8,"temp":-4.9},{"kyr":370.6,"temp":-5.8},{"kyr":371.4,"temp":-6.6},{"kyr":372.3,"temp":-6.7},{"kyr":373.1,"temp":-6.0},{"kyr":373.9,"temp":-5.6},{"kyr":374.8,"temp":-5.2},{"kyr":375.6,"temp":-4.9},{"kyr":376.5,"temp":-3.7},{"kyr":377.3,"temp":-3.3},{"kyr":378.1,"temp":-3.0},{"kyr":378.9,"temp":-4.0},{"kyr":379.5,"temp":-4.5},{"kyr":380.1,"temp":-4.9},{"kyr":380.8,"temp":-4.2},{"kyr":381.4,"temp":-3.4},{"kyr":382.2,"temp":-3.0},{"kyr":383.1,"temp":-2.6},{"kyr":383.9,"temp":-2.4},{"kyr":384.7,"temp":-3.7},{"kyr":385.4,"temp":-4.8},{"kyr":386.0,"temp":-5.5},{"kyr":386.6,"temp":-5.4},{"kyr":387.2,"temp":-5.5},{"kyr":388.1,"temp":-5.2},{"kyr":388.9,"temp":-5.1},{"kyr":389.7,"temp":-5.3},{"kyr":390.5,"temp":-5.5},{"kyr":391.3,"temp":-5.4},{"kyr":392.2,"temp":-5.5},{"kyr":393.0,"temp":-5.4},{"kyr":393.9,"temp":-5.2},{"kyr":394.7,"temp":-5.3},{"kyr":395.5,"temp":-3.7},{"kyr":396.3,"temp":-3.0},{"kyr":397.2,"temp":-2.4},{"kyr":398.0,"temp":-2.2},{"kyr":398.9,"temp":-2.0},{"kyr":399.7,"temp":-1.7},{"kyr":400.6,"temp":-1.7},{"kyr":401.4,"temp":-1.6},{"kyr":402.2,"temp":-1.2},{"kyr":403.0,"temp":-1.2},{"kyr":403.9,"temp":-0.7},{"kyr":404.7,"temp":-0.2},{"kyr":405.5,"temp":0.1},{"kyr":406.4,"temp":0.4},{"kyr":407.2,"temp":0.8},{"kyr":408.1,"temp":0.9},{"kyr":408.9,"temp":1.1},{"kyr":409.7,"temp":1.7},{"kyr":410.3,"temp":2.1},{"kyr":410.6,"temp":2.1},{"kyr":411.4,"temp":1.4},{"kyr":412.3,"temp":1.3},{"kyr":413.1,"temp":1.2},{"kyr":414.0,"temp":1.1},{"kyr":414.8,"temp":0.8},{"kyr":415.6,"temp":1.2},{"kyr":416.5,"temp":1.4},{"kyr":417.3,"temp":1.6},{"kyr":418.1,"temp":1.5},{"kyr":419.0,"temp":1.3},{"kyr":419.8,"temp":1.1},{"kyr":420.5,"temp":0.7}
]},
"mark": {"type": "line", "color": "#0000ff", "strokeWidth": 1.3, "clip": true},
"encoding": {
  "x": {"field": "kyr", "type": "quantitative", "scale": {"domain": [0, 420], "nice": false, "zero": false},
        "axis": {"values": [0, 100, 200, 300, 400], "title": "Years (X 1000) Before Present (2000 A.D.)", "grid": false, "ticks": false, "domain": false, "labelPadding": 14, "labelFontSize": 14, "labelFontWeight": "bold", "titleFontSize": 14, "titleFontWeight": "bold", "titlePadding": 12}},
  "y": {"field": "temp", "type": "quantitative", "scale": {"domain": [-15, 5], "nice": false, "zero": false},
        "axis": {"values": [5, 0, -5, -10, -15], "title": ["Temperature Deviation (ºC)", "Relative to Present"], "grid": true, "gridColor": "black", "gridOpacity": 1, "gridWidth": 1, "ticks": false, "domain": false, "labelPadding": 13, "labelFontSize": 14, "labelFontWeight": "bold", "titleFontSize": 14, "titleFontWeight": "bold", "titleLineHeight": 21, "titlePadding": 10}}
},
"config": {
  "view": {"stroke": "black", "strokeWidth": 1},
  "axis": {"labelColor": "black", "titleColor": "black", "labelFont": "Liberation Sans", "titleFont": "Liberation Sans"}
}
}
